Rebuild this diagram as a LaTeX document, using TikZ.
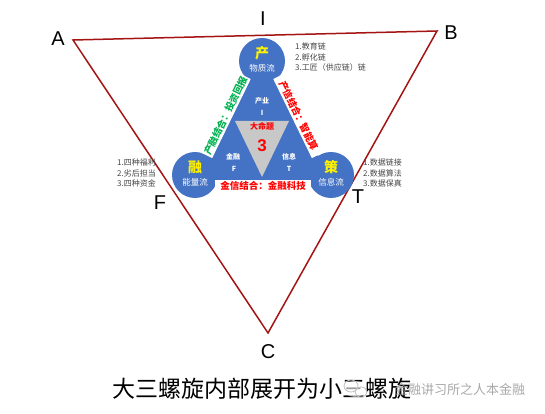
\documentclass[tikz,border=0pt]{standalone}
\usepackage{fontspec}
\setmainfont{Liberation Sans}
\newfontfamily\cjk{Noto Sans CJK SC}
\definecolor{tri}{RGB}{165,20,20}
\definecolor{blu}{RGB}{68,114,196}
\definecolor{grayt}{RGB}{200,200,200}
\definecolor{gtxt}{RGB}{0,176,80}
\definecolor{listc}{RGB}{70,70,70}
\tikzset{
  triline/.style={draw=tri, line width=1.5pt, line join=miter},
  corner/.style={font=\fontsize{20}{20}\selectfont, inner sep=0pt},
  circ/.style={circle, fill=blu, minimum size=46pt, inner sep=0pt},
  bigchar/.style={font=\cjk\bfseries\fontsize{14}{14}\selectfont, text=yellow, inner sep=0pt},
  flow/.style={font=\cjk\fontsize{8.5}{8.5}\selectfont, text=white, inner sep=0pt},
  sub/.style={font=\cjk\bfseries\fontsize{7}{7}\selectfont, text=white, inner sep=0pt},
  band/.style={font=\cjk\bfseries\fontsize{9.5}{9.5}\selectfont, fill=white, inner sep=0pt, minimum height=13pt},
  lst/.style={font=\cjk\fontsize{8}{10.5}\selectfont, text=listc, align=left, anchor=north west, inner sep=0pt},
}
\begin{document}
\begin{tikzpicture}[x=1pt,y=-1pt]
\useasboundingbox (0,0) rectangle (545,414);
% outer triangle
\coordinate (A) at (73,40);
\coordinate (B) at (437,31);
\coordinate (C) at (268,333);
\draw[triline] (A) -- (B) -- (C) -- cycle;
\node[corner] (la) at (58,39) {A};
\node[corner] (li) at (263,19) {I};
\node[corner] (lb) at (451,33) {B};
\node[corner] (lf) at (160,203) {F};
\node[corner] (lt) at (358,197) {T};
\node[corner] (lc) at (268,352) {C};
% blue triangle
\coordinate (t1) at (262,41);
\coordinate (t2) at (191.5,186);
\coordinate (t3) at (332.5,186);
\fill[blu] (t1) -- (t2) -- (t3) -- cycle;
\coordinate (g1) at (235,121);
\coordinate (g2) at (289,121);
\coordinate (g3) at (262,177);
\fill[grayt] (g1) -- (g2) -- (g3) -- cycle;
% circles
\node[circ] (cp) at (262,61) {};
\node[circ] (cr) at (195,175) {};
\node[circ] (cc) at (331,175) {};
% bands
\node[band, text=gtxt, rotate=64, minimum width=88pt] (bl) at (225.6,115.7) {产融结合：投资回报};
\node[band, text=red, rotate=-64, minimum width=88pt] (br) at (298.4,115.7) {产信结合：智能算};
\node[band, text=red, minimum width=96pt] (bb) at (263,186) {金信结合：金融科技};
% circle texts
\node[bigchar] (p1) at (262,53) {产};
\node[flow] (p2) at (262,68) {物质流};
\node[bigchar] (r1) at (195,167) {融};
\node[flow] (r2) at (195,182) {能量流};
\node[bigchar] (c1) at (331,167) {策};
\node[flow] (c2) at (331,182) {信息流};
% inner labels
\node[sub] (s1) at (262,101) {产业};
\node[sub] (s2) at (262,113) {I};
\node[sub] (s3) at (233,157) {金融};
\node[sub] (s4) at (234,169) {F};
\node[sub] (s5) at (289,157) {信息};
\node[sub] (s6) at (289,169) {T};
\node[font=\cjk\bfseries\fontsize{8}{8}\selectfont, text=red, inner sep=0pt] (dm) at (262,126) {大命题};
\node[font=\bfseries\fontsize{17}{17}\selectfont, text=red, inner sep=0pt] (n3) at (262,146) {3};
% lists
\node[lst] (l1) at (295,43) {1.教育链\\2.孵化链\\3.工匠（供应链）链};
\node[lst] (l2) at (117,159) {1.四种福利\\2.劣后担当\\3.四种资金};
\node[lst] (l3) at (363,159) {1.数据链接\\2.数据算法\\3.数据保真};
% caption
\node[font=\cjk\fontsize{23}{23}\selectfont, inner sep=0pt] (cap) at (262,389) {大三螺旋内部展开为小三螺旋};
% watermark
\fill[white, opacity=0.6] (355,389) ellipse (11pt and 8pt);
\draw[gray!50, line width=0.8pt] (351,386) ellipse (7pt and 6pt);
\draw[gray!50, line width=0.8pt] (361,392) ellipse (6pt and 5pt);
\node[font=\cjk\fontsize{13}{13}\selectfont, text=gray!80, inner sep=0pt, opacity=0.85] (wm) at (460,390) {金融讲习所之人本金融};
\end{tikzpicture}
\end{document}
